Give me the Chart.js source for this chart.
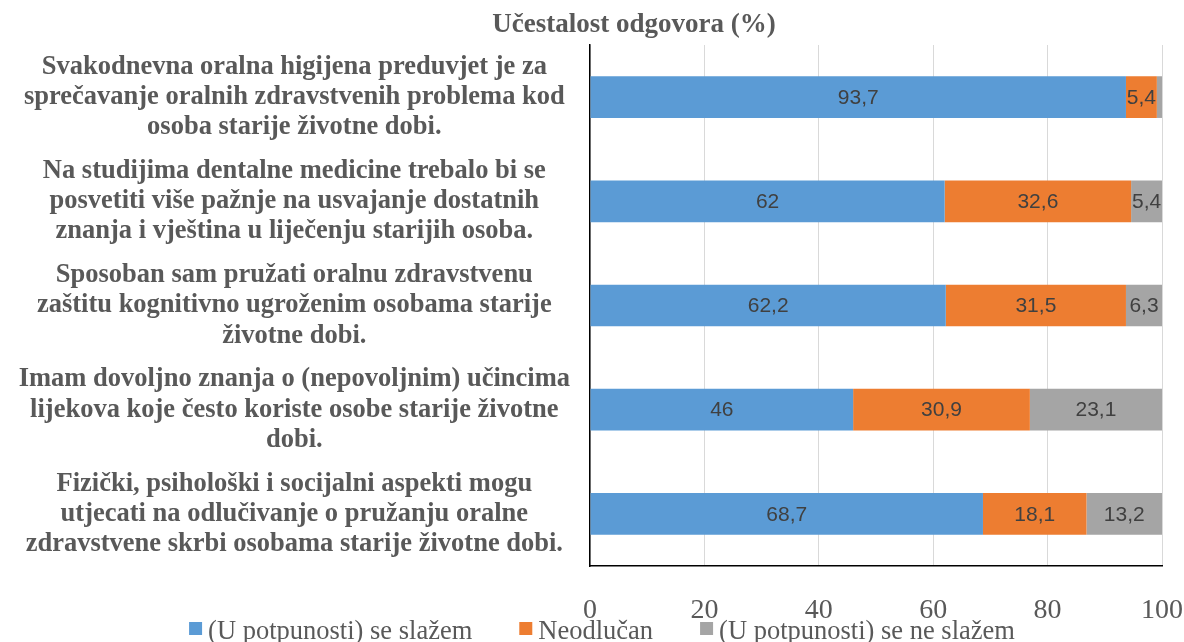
<!DOCTYPE html>
<html>
<head>
<meta charset="utf-8">
<script src="https://cdn.jsdelivr.net/npm/chart.js@4"></script>
<style>
  html, body { margin: 0; padding: 0; background: #fff; }
  #wrap { width: 1184px; height: 642px; }
</style>
</head>
<body>
<div id="wrap"><canvas id="chart"></canvas></div>
<script>
// Podaci (učestalost odgovora u %)
const categories = [
  ['Svakodnevna oralna higijena preduvjet je za', 'sprečavanje oralnih zdravstvenih problema kod', 'osoba starije životne dobi.'],
  ['Na studijima dentalne medicine trebalo bi se', 'posvetiti više pažnje na usvajanje dostatnih', 'znanja i vještina u liječenju starijih osoba.'],
  ['Sposoban sam pružati oralnu zdravstvenu', 'zaštitu kognitivno ugroženim osobama starije', 'životne dobi.'],
  ['Imam dovoljno znanja o (nepovoljnim) učincima', 'lijekova koje često koriste osobe starije životne', 'dobi.'],
  ['Fizički, psihološki i socijalni aspekti mogu', 'utjecati na odlučivanje o pružanju oralne', 'zdravstvene skrbi osobama starije životne dobi.']
];
const slazem = [93.7, 62, 62.2, 46, 68.7];
const neodlucan = [5.4, 32.6, 31.5, 30.9, 18.1];
const neSlazem = [0.9, 5.4, 6.3, 23.1, 13.2];
const seriesNames = ['(U potpunosti) se slažem', 'Neodlučan', '(U potpunosti) se ne slažem'];
const seriesColors = ['#5B9BD5', '#ED7D31', '#A5A5A5'];
const tickValues = [0, 20, 40, 60, 80, 100];

const SERIF = '"Liberation Serif", "Times New Roman", serif';

// Crta vrijednosti u sredini svakog segmenta
const barLabels = {
  id: 'barLabels',
  afterDatasetsDraw(chart) {
    const ctx = chart.ctx;
    ctx.save();
    ctx.font = '21px "Liberation Sans", Arial, sans-serif';
    ctx.fillStyle = '#404040';
    ctx.textAlign = 'center';
    ctx.textBaseline = 'middle';
    chart.data.datasets.forEach((ds, i) => {
      chart.getDatasetMeta(i).data.forEach((bar, j) => {
        const v = ds.data[j];
        if (v < 2) return; // premala vrijednost, bez oznake
        const cx = (bar.x + bar.base) / 2;
        ctx.fillText(String(v).replace('.', ','), cx, bar.y + 1);
      });
    });
    ctx.restore();
  }
};

// Naslov iznad grafa i legenda ispod osi
const titleAndLegend = {
  id: 'titleAndLegend',
  afterDraw(chart) {
    const ctx = chart.ctx;
    ctx.save();
    ctx.font = 'bold 27px ' + SERIF;
    ctx.fillStyle = '#595959';
    ctx.textAlign = 'center';
    ctx.textBaseline = 'alphabetic';
    ctx.fillText('Učestalost odgovora (%)', 634, 32);

    // legenda
    ctx.font = '26.5px ' + SERIF;
    ctx.textAlign = 'left';
    const box = 13, boxGap = 6, itemGap = 47;
    const widths = seriesNames.map(n => ctx.measureText(n).width);
    const total = widths.reduce((a, w) => a + box + boxGap + w, 0) + itemGap * (seriesNames.length - 1);
    let x = 602 - total / 2;
    const baseY = 639;
    seriesNames.forEach((n, i) => {
      ctx.fillStyle = seriesColors[i];
      ctx.fillRect(x, baseY - 17, box, box);
      x += box + boxGap;
      ctx.fillStyle = '#595959';
      ctx.fillText(n, x, baseY);
      x += widths[i] + itemGap;
    });
    ctx.restore();
  }
};

const ctx = document.getElementById('chart').getContext('2d');
const chart = new Chart(ctx, {
  type: 'bar',
  data: {
    labels: categories,
    datasets: seriesNames.map((name, i) => ({
      label: name,
      data: [slazem, neodlucan, neSlazem][i],
      backgroundColor: seriesColors[i]
    }))
  },
  options: {
    indexAxis: 'y',
    responsive: true,
    maintainAspectRatio: false,
    animation: false,
    layout: { padding: { top: 45, right: 22, left: 0, bottom: 22 } },
    datasets: {
      bar: { categoryPercentage: 0.4, barPercentage: 1, borderWidth: 0 }
    },
    scales: {
      x: {
        stacked: true,
        min: 0,
        max: 100,
        afterBuildTicks: (scale) => { scale.ticks = tickValues.map(v => ({ value: v })); },
        afterFit: (scale) => { scale.height = 54; scale.paddingLeft = 0; scale.paddingRight = 0; },
        grid: { color: '#D9D9D9', lineWidth: 1, drawTicks: false },
        border: { display: true, color: '#000', width: 1.5 },
        ticks: {
          padding: 28,
          color: '#595959',
          font: { family: SERIF, size: 28 }
        }
      },
      y: {
        stacked: true,
        afterFit: (scale) => { scale.width = 590; scale.paddingTop = 0; scale.paddingBottom = 0; },
        grid: { display: false, drawTicks: false },
        border: { display: true, color: '#000', width: 1.5 },
        ticks: {
          crossAlign: 'center',
          padding: 20,
          color: '#595959',
          font: { family: SERIF, size: 26.5, weight: 'bold', lineHeight: 1.14 }
        }
      }
    },
    plugins: {
      legend: { display: false },
      tooltip: { enabled: false },
      title: { display: false }
    }
  },
  plugins: [barLabels, titleAndLegend]
});
</script>
</body>
</html>
